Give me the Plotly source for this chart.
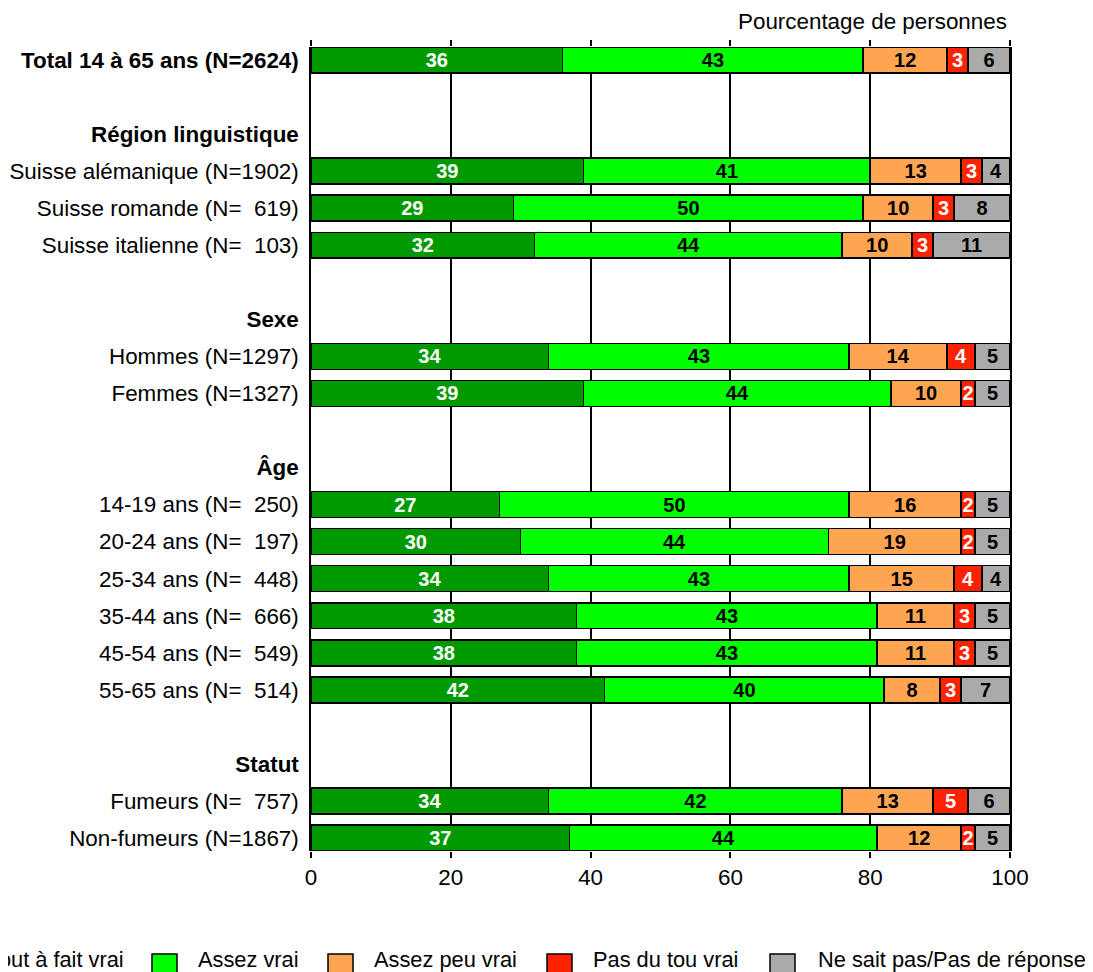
import plotly.graph_objects as go

NB = "\u00a0"
labels = [
    "Total 14 à 65 ans (N=2624)", "", "Région linguistique",
    "Suisse alémanique (N=1902)", f"Suisse romande (N={NB}{NB}619)", f"Suisse italienne (N={NB}{NB}103)",
    "", "Sexe", "Hommes (N=1297)", "Femmes (N=1327)",
    "", "Âge",
    f"14-19 ans (N={NB}{NB}250)", f"20-24 ans (N={NB}{NB}197)", f"25-34 ans (N={NB}{NB}448)",
    f"35-44 ans (N={NB}{NB}666)", f"45-54 ans (N={NB}{NB}549)", f"55-65 ans (N={NB}{NB}514)",
    "", "Statut", f"Fumeurs (N={NB}{NB}757)", "Non-fumeurs (N=1867)",
]
bold_rows = [True, False, True, False, False, False, False, True, False, False,
             False, True, False, False, False, False, False, False, False, True, False, False]

tout_a_fait = [36, None, None, 39, 29, 32, None, None, 34, 39, None, None, 27, 30, 34, 38, 38, 42, None, None, 34, 37]
assez_vrai = [43, None, None, 41, 50, 44, None, None, 43, 44, None, None, 50, 44, 43, 43, 43, 40, None, None, 42, 44]
assez_peu = [12, None, None, 13, 10, 10, None, None, 14, 10, None, None, 16, 19, 15, 11, 11, 8, None, None, 13, 12]
pas_du_tout = [3, None, None, 3, 3, 3, None, None, 4, 2, None, None, 2, 2, 4, 3, 3, 3, None, None, 5, 2]
ne_sait_pas = [6, None, None, 4, 8, 11, None, None, 5, 5, None, None, 5, 5, 4, 5, 5, 7, None, None, 6, 5]

series_names = ["Tout à fait vrai", "Assez vrai", "Assez peu vrai", "Pas du tou vrai", "Ne sait pas/Pas de réponse"]
series_values = [tout_a_fait, assez_vrai, assez_peu, pas_du_tout, ne_sait_pas]
colors = ["#009900", "#00FF00", "#FFA552", "#FF2200", "#AAAAAA"]
text_colors = ["white", "black", "black", "white", "black"]

ypos = list(range(len(labels)))
ticktext = [f"<b>{l}</b>" if b else l for l, b in zip(labels, bold_rows)]

LABEL_FONT = "Liberation Sans, Arial, Helvetica, sans-serif"
BAR_FONT = "Liberation Sans Narrow, Arial Narrow, Liberation Sans, Arial, sans-serif"
FS = 22.4
LEG_FS = 21.8

# figure geometry (page has an 8px body margin)
W, H = 1085, 964
ML, MR, MT, MB = 303, 83, 39, 121
PX0 = 8 + ML
PW = W - ML - MR
PY1 = 8 + H - MB
PH = H - MT - MB


def fx(px):
    return (px - PX0) / PW


def fy(py):
    return (PY1 - py) / PH


fig = go.Figure()
for name, vals, col, tcol in zip(series_names, series_values, colors, text_colors):
    fig.add_trace(go.Bar(
        y=ypos, x=vals, orientation="h", name=name,
        marker=dict(color=col, line=dict(color="black", width=1.5)),
        text=[str(v) if v is not None else "" for v in vals],
        textposition="inside", insidetextanchor="middle", textangle=0,
        constraintext="none",
        textfont=dict(family=BAR_FONT, size=20, color=tcol, weight="bold"),
        width=0.7, showlegend=False, hoverinfo="skip",
    ))

# manual legend (square left edge, text left edge in page pixels)
legend_square_x = [-58, 152, 328, 547, 770]
legend_text_x = [-14, 196, 372, 591, 816]
shapes = []
annotations = []
for name, col, sx, tx in zip(series_names, colors, legend_square_x, legend_text_x):
    shapes.append(dict(
        type="rect", xref="paper", yref="paper",
        x0=fx(sx), x1=fx(sx + 25), y0=fy(975), y1=fy(954),
        fillcolor=col, line=dict(color="black", width=1.5), layer="above",
    ))
    annotations.append(dict(
        text=name, xref="paper", yref="paper", x=fx(tx), y=fy(959),
        xanchor="left", yanchor="middle", showarrow=False,
        font=dict(family=LABEL_FONT, size=LEG_FS, color="black"),
    ))

annotations.append(dict(
    text="Pourcentage de personnes", xref="paper", yref="paper",
    x=fx(1009), y=fy(21), xanchor="right", yanchor="middle", showarrow=False,
    font=dict(family=LABEL_FONT, size=FS, color="black"),
))

fig.update_layout(
    width=W, height=H,
    barmode="stack",
    paper_bgcolor="white", plot_bgcolor="white",
    margin=dict(l=ML, r=MR, t=MT, b=MB, autoexpand=False),
    showlegend=False,
    font=dict(family=LABEL_FONT, size=FS, color="black"),
    xaxis=dict(
        range=[0, 100], tickvals=[0, 20, 40, 60, 80, 100],
        showgrid=True, gridcolor="black", gridwidth=1.5,
        zeroline=False, showline=False,
        ticks="outside", ticklen=6, tickwidth=1.5, tickcolor="black", mirror="ticks",
        tickfont=dict(family=LABEL_FONT, size=FS, color="black"),
        fixedrange=True,
    ),
    yaxis=dict(
        range=[21.35, -0.35], tickvals=ypos, ticktext=ticktext,
        showgrid=False, zeroline=False, showline=True, linecolor="black", linewidth=1.5, mirror=True,
        ticks="", ticklabelstandoff=6,
        tickfont=dict(family=LABEL_FONT, size=FS, color="black"),
        fixedrange=True,
    ),
    shapes=shapes,
    annotations=annotations,
)

fig.write_html("out.html")
